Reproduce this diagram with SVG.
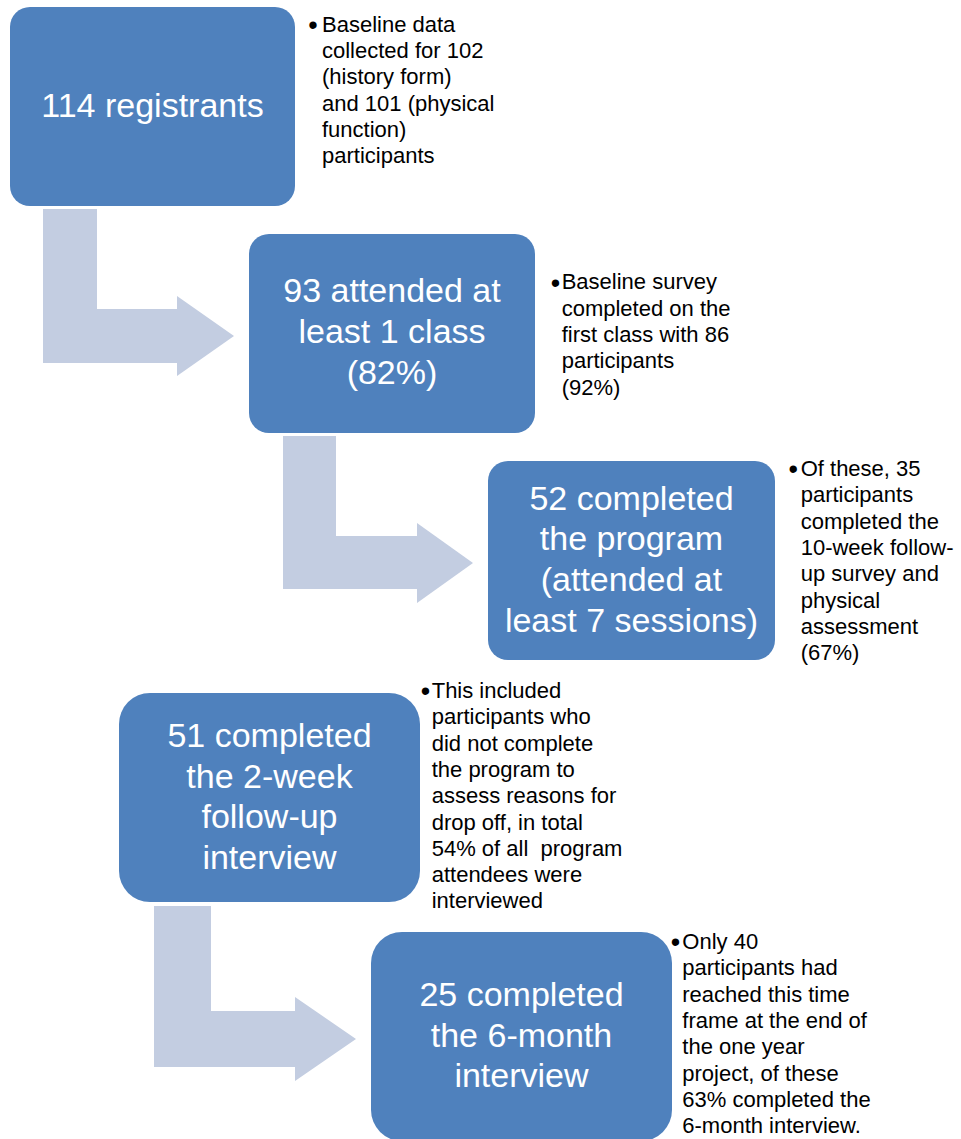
<svg xmlns="http://www.w3.org/2000/svg" width="961" height="1139" viewBox="0 0 961 1139">
<style>
.box{fill:#4F81BD;}
.arrow{fill:#C3CDE1;}
.bt{font-family:"Liberation Sans",Arial,sans-serif;font-size:34px;fill:#FFFFFF;text-anchor:middle;}
.nt{font-family:"Liberation Sans",Arial,sans-serif;font-size:22px;fill:#000000;white-space:pre;}
.dot{font-family:"Liberation Sans",Arial,sans-serif;font-size:27px;fill:#000000;text-anchor:middle;}
</style>
<rect width="961" height="1139" fill="#FFFFFF"/>
<g id="connectors">
<polygon class="arrow" points="43,209 97,209 97,309 177,309 177,296 234,336 177,376 177,363 43,363"/>
<polygon class="arrow" points="283,436 336,436 336,536 417,536 417,523 473,563 417,603 417,589 283,589"/>
<polygon class="arrow" points="154,906 211,906 211,1011 295,1011 295,997 356,1039 295,1081 295,1067 154,1067"/>
</g>
<g id="node1">
<rect class="box" x="10" y="7" width="285" height="199" rx="20" ry="20"/>
<text class="bt" x="152.5" y="117">114 registrants</text>
</g>
<g id="note1">
<text class="dot" x="313" y="33.5">•</text>
<text class="nt" x="322" y="31.7">Baseline data</text>
<text class="nt" x="322" y="58">collected for 102</text>
<text class="nt" x="322" y="84.3">(history form)</text>
<text class="nt" x="322" y="110.6">and 101 (physical</text>
<text class="nt" x="322" y="136.9">function)</text>
<text class="nt" x="322" y="163.2">participants</text>
</g>
<g id="node2">
<rect class="box" x="249" y="234" width="286" height="199" rx="20" ry="20"/>
<text class="bt" x="392" y="302">93 attended at</text>
<text class="bt" x="392" y="343">least 1 class</text>
<text class="bt" x="392" y="384">(82%)</text>
</g>
<g id="note2">
<text class="dot" x="555.5" y="291.5">•</text>
<text class="nt" x="561.7" y="289.3">Baseline survey</text>
<text class="nt" x="561.7" y="315.6">completed on the</text>
<text class="nt" x="561.7" y="341.9">first class with 86</text>
<text class="nt" x="561.7" y="368.2">participants</text>
<text class="nt" x="561.7" y="394.5">(92%)</text>
</g>
<g id="node3">
<rect class="box" x="488" y="461" width="287" height="199" rx="20" ry="20"/>
<text class="bt" x="631.5" y="509.5">52 completed</text>
<text class="bt" x="631.5" y="550.2">the program</text>
<text class="bt" x="631.5" y="590.8">(attended at</text>
<text class="bt" x="631.5" y="631.5">least 7 sessions)</text>
</g>
<g id="note3">
<text class="dot" x="793.3" y="478">•</text>
<text class="nt" x="800.7" y="476">Of these, 35</text>
<text class="nt" x="800.7" y="502.3">participants</text>
<text class="nt" x="800.7" y="528.6">completed the</text>
<text class="nt" x="800.7" y="554.9">10-week follow-</text>
<text class="nt" x="800.7" y="581.2">up survey and</text>
<text class="nt" x="800.7" y="607.5">physical</text>
<text class="nt" x="800.7" y="633.8">assessment</text>
<text class="nt" x="800.7" y="660.1">(67%)</text>
</g>
<g id="node4">
<rect class="box" x="119" y="693" width="301" height="209" rx="31" ry="31"/>
<text class="bt" x="269.5" y="747">51 completed</text>
<text class="bt" x="269.5" y="787.5">the 2-week</text>
<text class="bt" x="269.5" y="828">follow-up</text>
<text class="bt" x="269.5" y="868.5">interview</text>
</g>
<g id="note4">
<text class="dot" x="425.5" y="700">•</text>
<text class="nt" x="431.7" y="698">This included</text>
<text class="nt" x="431.7" y="724.3">participants who</text>
<text class="nt" x="431.7" y="750.6">did not complete</text>
<text class="nt" x="431.7" y="776.9">the program to</text>
<text class="nt" x="431.7" y="803.2">assess reasons for</text>
<text class="nt" x="431.7" y="829.5">drop off, in total</text>
<text class="nt" x="431.7" y="855.8">54% of all  program</text>
<text class="nt" x="431.7" y="882.1">attendees were</text>
<text class="nt" x="431.7" y="908.4">interviewed</text>
</g>
<g id="node5">
<rect class="box" x="371" y="932" width="301" height="209" rx="31" ry="31"/>
<text class="bt" x="521.5" y="1006">25 completed</text>
<text class="bt" x="521.5" y="1046.5">the 6-month</text>
<text class="bt" x="521.5" y="1087">interview</text>
</g>
<g id="note5">
<text class="dot" x="675.5" y="951">•</text>
<text class="nt" x="682.3" y="949">Only 40</text>
<text class="nt" x="682.3" y="975.3">participants had</text>
<text class="nt" x="682.3" y="1001.6">reached this time</text>
<text class="nt" x="682.3" y="1027.9">frame at the end of</text>
<text class="nt" x="682.3" y="1054.2">the one year</text>
<text class="nt" x="682.3" y="1080.5">project, of these</text>
<text class="nt" x="682.3" y="1106.8">63% completed the</text>
<text class="nt" x="682.3" y="1133.1">6-month interview.</text>
</g>
</svg>
